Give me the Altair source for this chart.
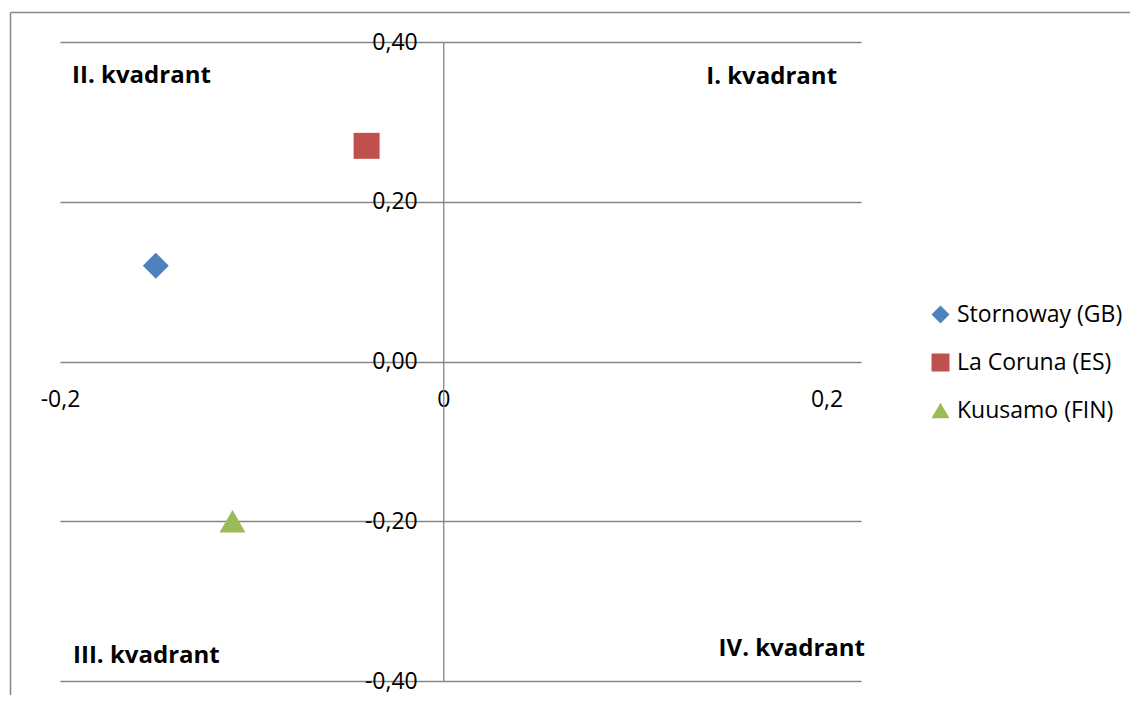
import altair as alt
import pandas as pd

# ---- data ----
stations = ["Stornoway (GB)", "La Coruna (ES)", "Kuusamo (FIN)"]
x_values = [-0.15, -0.04, -0.11]
y_values = [0.12, 0.27, -0.20]
shapes = ["diamond", "square", "triangle-up"]
colors = ["#4F81BD", "#C0504D", "#9BBB59"]

x_ticks = [-0.2, 0.0, 0.2]
y_ticks = [-0.4, -0.2, 0.0, 0.2, 0.4]
x_domain = [-0.2, 0.218]
y_domain = [-0.4, 0.4]

quadrant_labels = ["I. kvadrant", "II. kvadrant", "III. kvadrant", "IV. kvadrant"]
quadrant_x = [0.2055, -0.1937, -0.1932, 0.2201]
quadrant_y = [0.3474, 0.3487, -0.3775, -0.3687]
quadrant_align = ["right", "left", "left", "right"]

points_df = pd.DataFrame({"station": stations, "x": x_values, "y": y_values})
quad_df = pd.DataFrame({"label": quadrant_labels, "x": quadrant_x, "y": quadrant_y,
                        "align": quadrant_align})

GRID = "#868686"
FONT = "Open Sans"

x_scale = alt.Scale(domain=x_domain, nice=False, zero=False)
y_scale = alt.Scale(domain=y_domain, nice=False, zero=False)

x_axis = alt.Axis(
    values=x_ticks, title=None, offset=-319, grid=False, domain=False,
    ticks=False, tickSize=0, labelPadding=26, labelFlush=False, labelOverlap=False,
    labelFont=FONT, labelFontSize=23, labelColor="#000000",
    labelExpr="datum.value == 0 ? '0' : (datum.value < 0 ? '-' : '') + replace(format(abs(datum.value), '.1f'), '.', ',')",
)
y_axis = alt.Axis(
    values=y_ticks, title=None, offset=-383.25, grid=True, gridColor=GRID, gridWidth=1.3,
    domain=True, domainColor=GRID, domainWidth=1.3, ticks=False, tickSize=0,
    labelPadding=26, labelOverlap=False, labelFlush=False,
    labelFont=FONT, labelFontSize=23, labelColor="#000000",
    labelExpr="(datum.value < 0 ? '-' : '') + replace(format(abs(datum.value), '.2f'), '.', ',')",
)


def xe():
    return alt.X("x:Q", scale=x_scale, axis=x_axis)


def ye():
    return alt.Y("y:Q", scale=y_scale, axis=y_axis)


legend = alt.Legend(
    title=None, orient="none", legendX=869, legendY=261, padding=0,
    labelFont=FONT, labelFontSize=23, labelColor="#000000", labelLimit=400,
    symbolSize=324, symbolStrokeWidth=0, symbolOpacity=1,
    rowPadding=24, labelOffset=5,
)

points = alt.Chart(points_df).mark_point(filled=True, opacity=1, size=676, strokeWidth=0).encode(
    x=xe(),
    y=ye(),
    color=alt.Color("station:N", scale=alt.Scale(domain=stations, range=colors), legend=legend),
    shape=alt.Shape("station:N", scale=alt.Scale(domain=stations, range=shapes), legend=legend),
)

quad_left = alt.Chart(quad_df).transform_filter("datum.align == 'left'").mark_text(
    font=FONT, fontSize=24, fontWeight="bold", color="#000000", align="left", baseline="alphabetic"
).encode(x=xe(), y=ye(), text="label:N")

quad_right = alt.Chart(quad_df).transform_filter("datum.align == 'right'").mark_text(
    font=FONT, fontSize=24, fontWeight="bold", color="#000000", align="right", baseline="alphabetic"
).encode(x=xe(), y=ye(), text="label:N")

one = pd.DataFrame({"k": [0]})
frame_top = alt.Chart(one).mark_rule(color=GRID, strokeWidth=1.5).encode(
    x=alt.value(-49.5), x2=alt.value(1200), y=alt.value(-29.5)
)
frame_left = alt.Chart(one).mark_rule(color=GRID, strokeWidth=1.5).encode(
    x=alt.value(-49.5), y=alt.value(-29.5), y2=alt.value(800)
)

chart = alt.layer(frame_top, frame_left, quad_left, quad_right, points).properties(
    width=801,
    height=639,
    autosize=alt.AutoSizeParams(type="none"),
    padding={"left": 52, "top": 34, "right": 269, "bottom": 14},
).configure_view(stroke=None)

chart.save("out.html", embed_options={"renderer": "svg", "actions": False})
